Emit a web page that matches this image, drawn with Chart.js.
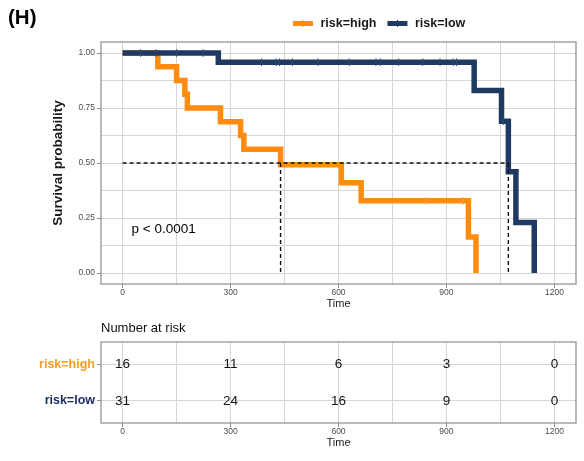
<!DOCTYPE html>
<html>
<head>
<meta charset="utf-8">
<script src="https://cdn.jsdelivr.net/npm/chart.js@4/dist/chart.umd.min.js"></script>
<style>
  html, body { margin: 0; padding: 0; background: #ffffff; }
  #wrap { position: relative; width: 584px; height: 461px; }
  #wrap canvas { position: absolute; left: 0; }
  #km { top: 0; }
  #risk { top: 315px; }
</style>
</head>
<body>
<div id="wrap">
  <canvas id="km" width="584" height="315"></canvas>
  <canvas id="risk" width="584" height="146"></canvas>
</div>
<script>
// Kaplan–Meier estimates: event times (days) and survival after each step
const highTime = [0, 98, 150, 173, 180, 272, 328, 337, 439, 608, 663, 961, 982];
const highSurv = [1, 0.9375, 0.875, 0.8125, 0.75, 0.6875, 0.625, 0.5625, 0.492, 0.41, 0.328, 0.164, 0];
const lowTime = [0, 266, 977, 1053, 1072, 1093, 1144];
const lowSurv = [1, 0.958, 0.83, 0.69, 0.46, 0.23, 0];

// Censored observations (time, survival at that time)
const highCensorTime = [843, 947];
const highCensorSurv = [0.328, 0.328];
const lowCensorTime = [50, 93, 150, 224, 386, 427, 436, 472, 543, 630, 704, 716, 767, 834, 882, 919, 928, 1058];
const lowCensorSurv = [1, 1, 1, 1, 0.958, 0.958, 0.958, 0.958, 0.958, 0.958, 0.958, 0.958, 0.958, 0.958, 0.958, 0.958, 0.958, 0.69];

// Median survival times
const medianHigh = 439;
const medianLow = 1072;

// Number-at-risk table
const strata = ['risk=high', 'risk=low'];
const riskTimes = [0, 300, 600, 900, 1200];
const highAtRisk = [16, 11, 6, 3, 0];
const lowAtRisk = [31, 24, 16, 9, 0];

// Axis ticks and grid positions
const xTicks = [0, 300, 600, 900, 1200];
const xMinor = [150, 450, 750, 1050];
const yTicks = [0, 0.25, 0.5, 0.75, 1];
const yMinor = [0.125, 0.375, 0.625, 0.875];

const pValueText = 'p < 0.0001';

const COLOR_HIGH = '#FF8C0F';
const COLOR_LOW = '#1E3A62';
const LABEL_HIGH = '#F89B25';
const LABEL_LOW = '#1B2F66';
const GRID = '#d6d6d6';
const FRAME = '#8c8c8c';
const AXIS_TEXT = '#4d4d4d';
const FONT = "'Liberation Sans', Arial, Helvetica, sans-serif";

Chart.defaults.font.family = FONT;
Chart.defaults.color = '#1a1a1a';

const byValue = (a, b) => a - b;
const pts = (xs, ys) => xs.map((x, i) => ({ x, y: ys[i] }));

function timeAxis(axisHeight, titlePad) {
  return {
    type: 'linear',
    min: -60,
    max: 1260,
    afterBuildTicks: s => { s.ticks = [...xTicks, ...xMinor].sort(byValue).map(v => ({ value: v })); },
    afterFit: s => { s.height = axisHeight; },
    ticks: {
      autoSkip: false, maxRotation: 0, padding: 0, color: AXIS_TEXT,
      font: { size: 8.5 },
      callback: v => (xTicks.includes(v) ? String(v) : '')
    },
    grid: {
      color: GRID, lineWidth: 1, tickLength: 4, tickWidth: 1,
      tickColor: c => (c.tick && xTicks.includes(c.tick.value) ? FRAME : 'rgba(0,0,0,0)')
    },
    border: { display: false },
    title: { display: true, text: 'Time', color: '#1a1a1a', font: { size: 11 }, padding: { top: 0, bottom: titlePad } }
  };
}

// Grey frame around the plotting panel
const panelFrame = {
  id: 'panelFrame',
  afterDraw(chart) {
    const a = chart.chartArea, c = chart.ctx;
    c.save();
    c.strokeStyle = FRAME;
    c.lineWidth = 1.2;
    c.strokeRect(a.left, a.top, a.right - a.left, a.bottom - a.top);
    c.restore();
  }
};

// Panel letter, legend and log-rank p-value
const kmDecor = {
  id: 'kmDecor',
  afterDraw(chart) {
    const c = chart.ctx;
    c.save();
    c.fillStyle = '#000';
    c.font = 'bold 20.5px ' + FONT;
    c.textAlign = 'left';
    c.textBaseline = 'middle';
    c.fillText('(H)', 8, 18.5);

    // legend
    c.font = 'bold 12.5px ' + FONT;
    let x = 293;
    const y = 23.5;
    [[strata[0], COLOR_HIGH], [strata[1], COLOR_LOW]].forEach(([label, col]) => {
      c.strokeStyle = col;
      c.lineWidth = 5;
      c.beginPath(); c.moveTo(x, y); c.lineTo(x + 20, y); c.stroke();
      c.lineWidth = 1;
      c.beginPath(); c.moveTo(x + 10, y - 3.5); c.lineTo(x + 10, y + 3.5); c.stroke();
      c.fillStyle = '#1a1a1a';
      c.fillText(label, x + 27.5, y);
      x += 27.5 + c.measureText(label).width + 11;
    });

    // p-value
    const xs = chart.scales.x, ys = chart.scales.y;
    c.font = '13.5px ' + FONT;
    c.fillStyle = '#000';
    c.fillText(pValueText, xs.getPixelForValue(25), ys.getPixelForValue(0.2));
    c.restore();
  }
};

const dashed = data => ({
  type: 'line', data, borderColor: '#111', borderWidth: 1.4, borderDash: [4, 3],
  pointRadius: 0, fill: false, order: 0
});

new Chart(document.getElementById('km'), {
  type: 'line',
  data: {
    datasets: [
      dashed([{ x: 0, y: 0.5 }, { x: medianLow, y: 0.5 }]),
      dashed([{ x: medianHigh, y: 0.5 }, { x: medianHigh, y: 0 }]),
      dashed([{ x: medianLow, y: 0.5 }, { x: medianLow, y: 0 }]),
      {
        label: strata[1] + ' censored', data: pts(lowCensorTime, lowCensorSurv), showLine: false,
        pointStyle: 'line', rotation: 90, pointRadius: 3.8, borderWidth: 1,
        borderColor: '#2f4a72', order: 1
      },
      {
        label: strata[0] + ' censored', data: pts(highCensorTime, highCensorSurv), showLine: false,
        pointStyle: 'line', rotation: 90, pointRadius: 3.8, borderWidth: 1,
        borderColor: '#ff9d2e', order: 1
      },
      {
        label: strata[1], data: pts(lowTime, lowSurv), stepped: true, borderColor: COLOR_LOW,
        borderWidth: 5.5, pointRadius: 0, fill: false, borderCapStyle: 'butt', borderJoinStyle: 'miter', order: 2
      },
      {
        label: strata[0], data: pts(highTime, highSurv), stepped: true, borderColor: COLOR_HIGH,
        borderWidth: 5.5, pointRadius: 0, fill: false, borderCapStyle: 'butt', borderJoinStyle: 'miter', order: 3
      }
    ]
  },
  options: {
    responsive: false,
    animation: false,
    devicePixelRatio: 1,
    layout: { padding: { top: 42, right: 8, left: 0, bottom: 0 } },
    plugins: { legend: { display: false }, tooltip: { enabled: false } },
    scales: {
      x: timeAxis(31, 4),
      y: {
        type: 'linear', min: -0.05, max: 1.05,
        afterBuildTicks: s => { s.ticks = [...yTicks, ...yMinor].sort(byValue).map(v => ({ value: v })); },
        afterFit: s => { s.width = 101; },
        ticks: {
          autoSkip: false, padding: 2, color: AXIS_TEXT, font: { size: 8.5 },
          callback: v => (yTicks.includes(v) ? v.toFixed(2) : '')
        },
        grid: {
          color: GRID, lineWidth: 1, tickLength: 4, tickWidth: 1,
          tickColor: c => (c.tick && yTicks.includes(c.tick.value) ? FRAME : 'rgba(0,0,0,0)')
        },
        border: { display: false },
        title: {
          display: true, text: 'Survival probability', color: '#1a1a1a',
          font: { size: 13.5, weight: 'bold' }, padding: { top: 50, bottom: 0 }
        }
      }
    }
  },
  plugins: [panelFrame, kmDecor]
});

// Row position of each stratum in the risk table (first stratum on top)
const rowOf = i => strata.length - i;

// Counts written at each time point of the risk table
const riskText = {
  id: 'riskText',
  afterDraw(chart) {
    const c = chart.ctx;
    c.save();
    c.font = '13.5px ' + FONT;
    c.fillStyle = '#111';
    c.textAlign = 'center';
    c.textBaseline = 'middle';
    chart.data.datasets.forEach((ds, di) => {
      chart.getDatasetMeta(di).data.forEach((el, i) => {
        c.fillText(String(ds.counts[i]), el.x, el.y);
      });
    });
    c.font = '13px ' + FONT;
    c.textAlign = 'left';
    c.fillStyle = '#111';
    c.fillText('Number at risk', chart.chartArea.left, 13.5);
    c.restore();
  }
};

new Chart(document.getElementById('risk'), {
  type: 'line',
  data: {
    datasets: [
      { label: strata[0], counts: highAtRisk, data: riskTimes.map(t => ({ x: t, y: rowOf(0) })), showLine: false, pointRadius: 0 },
      { label: strata[1], counts: lowAtRisk, data: riskTimes.map(t => ({ x: t, y: rowOf(1) })), showLine: false, pointRadius: 0 }
    ]
  },
  options: {
    responsive: false,
    animation: false,
    devicePixelRatio: 1,
    layout: { padding: { top: 27, right: 8, left: 0, bottom: 0 } },
    plugins: { legend: { display: false }, tooltip: { enabled: false } },
    scales: {
      x: timeAxis(38, 11),
      y: {
        type: 'linear', min: 0.4, max: strata.length + 0.6,
        afterBuildTicks: s => { s.ticks = strata.map((_, i) => ({ value: rowOf(i) })); },
        afterFit: s => { s.width = 101; },
        ticks: {
          autoSkip: false, padding: 2, font: { size: 12.5, weight: 'bold' },
          color: c => (c.tick && c.tick.value === rowOf(0) ? LABEL_HIGH : LABEL_LOW),
          callback: v => strata[strata.length - v]
        },
        grid: { color: GRID, lineWidth: 1, tickLength: 4, tickWidth: 1, tickColor: FRAME },
        border: { display: false }
      }
    }
  },
  plugins: [panelFrame, riskText]
});
</script>
</body>
</html>
